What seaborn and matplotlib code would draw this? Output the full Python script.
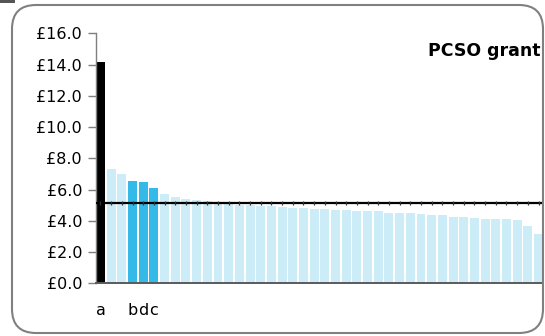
import matplotlib
matplotlib.use("Agg")
import matplotlib.pyplot as plt
import matplotlib.patches as mpatches
from matplotlib.transforms import IdentityTransform
import seaborn as sns
import pandas as pd

# ---- data ----
values = [14.15, 7.31, 7.01, 6.55, 6.48, 6.10, 5.71, 5.52, 5.39, 5.33,
          5.27, 5.20, 5.10, 5.03, 5.03, 4.95, 4.95, 4.88, 4.82, 4.82,
          4.75, 4.75, 4.69, 4.69, 4.63, 4.63, 4.63, 4.50, 4.50, 4.50,
          4.43, 4.37, 4.37, 4.24, 4.24, 4.18, 4.12, 4.12, 4.12, 4.05,
          3.67, 3.16]
labels = ["a", "", "", "b", "d", "c"] + [""] * 36
groups = ["highlight"] + ["other"] * 2 + ["selected"] * 3 + ["other"] * 36
average = 5.13
yticks = [0, 2, 4, 6, 8, 10, 12, 14, 16]
title = "PCSO grant"

palette = {"highlight": "#000000", "selected": "#33BAE8", "other": "#CCECF8"}

W, H = 545, 336
sns.set_theme(style="white")
plt.rcParams["font.family"] = ["DejaVu Sans"]

fig = plt.figure(figsize=(W / 100, H / 100), dpi=100)
ax = fig.add_axes([96 / W, 1 - 283.3 / H, (543 - 96) / W, (283.3 - 33.3) / H])

ids = [f"f{i:02d}" for i in range(len(values))]
df = pd.DataFrame({"id": ids, "value": values, "group": groups})
sns.barplot(data=df, x="id", y="value", hue="group", palette=palette,
            dodge=False, width=0.84, legend=False, ax=ax, saturation=1,
            linewidth=0, edgecolor="none")

n = len(values)
ax.axhline(average, color="black", lw=1.6, zorder=5)
ax.plot(range(n), [average] * n, ls="none", marker="|", ms=2.6, mew=0.9,
        color="#333333", zorder=6)

ax.set_xlim(-0.42, n - 1 + 0.42)
ax.set_ylim(0, 16)
ax.set_yticks(yticks)
ax.set_yticklabels([f"£{v:.1f}" for v in yticks])
ax.set_xticks(range(n))
ax.set_xticklabels(labels)
ax.set_xlabel("")
ax.set_ylabel("")

for s in ["top", "right"]:
    ax.spines[s].set_visible(False)
ax.spines["left"].set_color("#7f7f7f")
ax.spines["left"].set_linewidth(1.0)
ax.spines["bottom"].set_color("#5a5a5a")
ax.spines["bottom"].set_linewidth(1.4)
ax.spines["bottom"].set_zorder(7)

ax.tick_params(axis="y", direction="out", length=6, width=1.0, color="#7f7f7f",
               pad=4, labelsize=11.5, labelcolor="black", left=True)
ax.tick_params(axis="x", length=0, pad=14, labelsize=11.5, labelcolor="black")

ax.text(0.995, 0.93, title, transform=ax.transAxes, ha="right", va="center",
        fontsize=12.5, fontweight="bold", color="black")

# rounded frame around the chart
frame = mpatches.FancyBboxPatch((12, 3), 531, 328,
                                boxstyle="round,pad=0,rounding_size=24",
                                transform=IdentityTransform(), fill=False,
                                edgecolor="#808080", linewidth=1.5)
fig.add_artist(frame)
tab = mpatches.Rectangle((0, 333), 15, 3, transform=IdentityTransform(),
                         facecolor="#555555", edgecolor="none")
fig.add_artist(tab)

fig.savefig("out.png", dpi=100)
